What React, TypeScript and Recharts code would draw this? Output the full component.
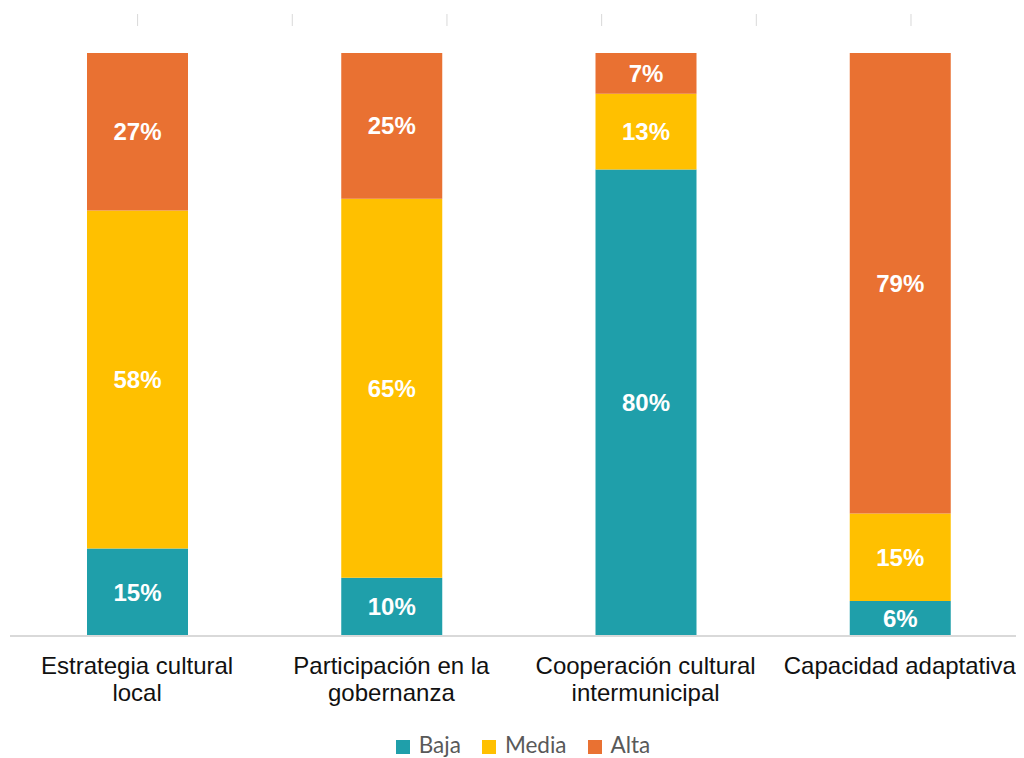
import React from 'react';
import { BarChart, Bar, XAxis, YAxis, Legend, LabelList } from 'recharts';

const categories = [
  'Estrategia cultural local',
  'Participación en la gobernanza',
  'Cooperación cultural intermunicipal',
  'Capacidad adaptativa',
];
const baja = [15, 10, 80, 6];
const media = [58, 65, 13, 15];
const alta = [27, 25, 7, 79];
const seriesOrder = ['Baja', 'Media', 'Alta'];
const topTicks = [0, 1, 2, 3, 4, 5];

const data = categories.map((name, i) => ({
  name,
  Baja: baja[i],
  Media: media[i],
  Alta: alta[i],
}));

const COLORS: Record<string, string> = { Baja: '#1F9FAA', Media: '#FFC000', Alta: '#E97132' };
const FONT = '"Liberation Sans", Arial, sans-serif';
const TICK_FONT_SIZE = 24;
const WRAP_WIDTH = 242;

let ctx: CanvasRenderingContext2D | null = null;
const measure = (s: string) => {
  if (!ctx) {
    const c = document.createElement('canvas');
    ctx = c.getContext('2d');
  }
  if (!ctx) return s.length * 12;
  ctx.font = `${TICK_FONT_SIZE}px ${FONT}`;
  return ctx.measureText(s).width;
};

const wrap = (s: string) => {
  const words = s.split(' ');
  const lines: string[] = [];
  let cur = '';
  words.forEach((w) => {
    const next = cur ? `${cur} ${w}` : w;
    if (cur && measure(next) > WRAP_WIDTH) {
      lines.push(cur);
      cur = w;
    } else {
      cur = next;
    }
  });
  if (cur) lines.push(cur);
  return lines;
};

const CategoryTick = (props: any) => {
  const { x, y, payload } = props;
  const lines = wrap(String(payload.value));
  return (
    <text
      x={x}
      y={y + 13}
      textAnchor="middle"
      fill="#111111"
      style={{ fontSize: TICK_FONT_SIZE, fontFamily: FONT }}
    >
      {lines.map((l, i) => (
        <tspan key={i} x={x} dy={i === 0 ? '0.71em' : 27}>
          {l}
        </tspan>
      ))}
    </text>
  );
};

const pct = (v: any) => `${v}%`;

const labelStyle = {
  fill: '#FFFFFF',
  fontSize: 24,
  fontWeight: 700,
  fontFamily: FONT,
};

export default function App() {
  return (
    <div style={{ width: 1016, height: 750, overflow: 'hidden' }}>
      <BarChart
        width={1019}
        height={750}
        data={data}
        margin={{ top: 6, right: 0, bottom: 0, left: 2 }}
        barCategoryGap={0}
      >
        <XAxis
          dataKey="name"
          xAxisId="cat"
          height={94}
          tickLine={false}
          axisLine={{ stroke: '#D9D9D9', strokeWidth: 2 }}
          tick={<CategoryTick />}
          interval={0}
        />
        <XAxis
          xAxisId="top"
          orientation="top"
          type="number"
          dataKey="Baja"
          domain={[-0.825, 5.75]}
          ticks={topTicks}
          height={12}
          tickSize={12}
          axisLine={false}
          tickLine={{ stroke: '#D9D9D9', strokeWidth: 1 }}
          tickFormatter={() => ''}
          allowDataOverflow
          interval={0}
        />
        <YAxis hide type="number" domain={[0, 104.63]} allowDataOverflow />
        <Legend
          verticalAlign="bottom"
          align="center"
          height={28}
          iconType="square"
          iconSize={14}
          itemSorter={(item: any) => seriesOrder.indexOf(item.value)}
          wrapperStyle={{ fontFamily: 'Lato, sans-serif', fontSize: 22, lineHeight: '24px', bottom: -3, left: 17 }}
          formatter={(value: any) => (
            <span style={{ color: '#595959', fontFamily: 'Lato, sans-serif', fontSize: 22.5, paddingLeft: 5, paddingRight: 11 }}>{value}</span>
          )}
        />
        <Bar dataKey="Baja" stackId="a" xAxisId="cat" fill={COLORS.Baja} barSize={101} isAnimationActive={false}>
          <LabelList dataKey="Baja" position="center" formatter={pct} style={labelStyle} />
        </Bar>
        <Bar dataKey="Media" stackId="a" xAxisId="cat" fill={COLORS.Media} barSize={101} isAnimationActive={false}>
          <LabelList dataKey="Media" position="center" formatter={pct} style={labelStyle} />
        </Bar>
        <Bar dataKey="Alta" stackId="a" xAxisId="cat" fill={COLORS.Alta} barSize={101} isAnimationActive={false}>
          <LabelList dataKey="Alta" position="center" formatter={pct} style={labelStyle} />
        </Bar>
      </BarChart>
    </div>
  );
}
